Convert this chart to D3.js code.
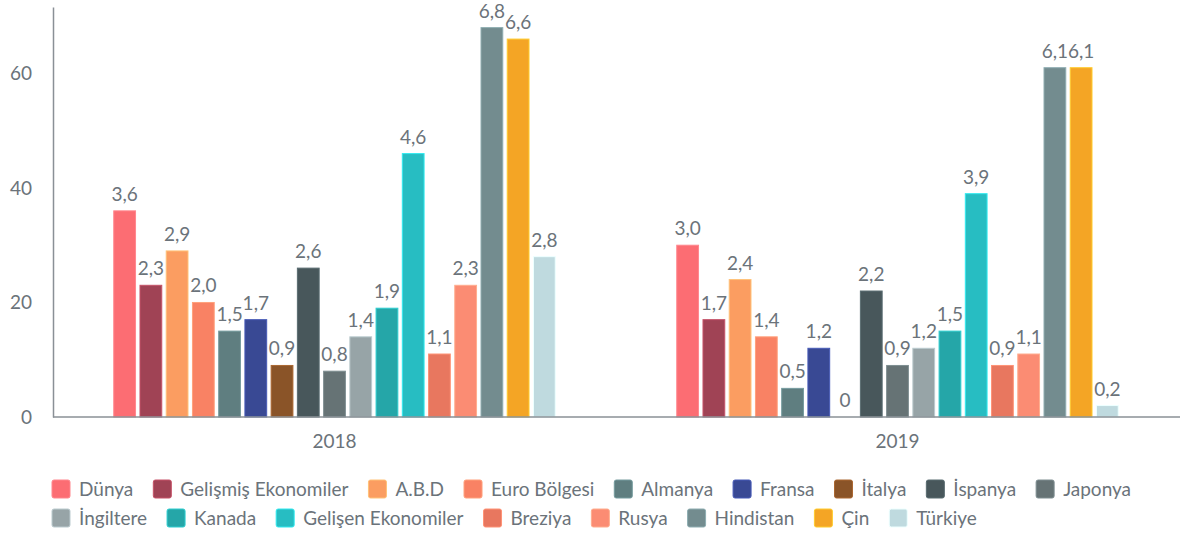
<!DOCTYPE html>
<html>
<head>
<meta charset="utf-8">
<script src="https://cdn.jsdelivr.net/npm/d3@7"></script>
<style>
  body { margin: 0; background: #fff; }
  text { font-family: Lato, "Open Sans", sans-serif; fill: #6b737a; }
</style>
</head>
<body>
<div id="chart"></div>
<script>
const w = 1181;
const h = 536;

// data
const years = ['2018', '2019'];
const countries = ['Dünya', 'Gelişmiş Ekonomiler', 'A.B.D', 'Euro Bölgesi', 'Almanya', 'Fransa', 'İtalya', 'İspanya', 'Japonya',
  'İngiltere', 'Kanada', 'Gelişen Ekonomiler', 'Breziya', 'Rusya', 'Hindistan', 'Çin', 'Türkiye'];
const values2018 = [3.6, 2.3, 2.9, 2.0, 1.5, 1.7, 0.9, 2.6, 0.8, 1.4, 1.9, 4.6, 1.1, 2.3, 6.8, 6.6, 2.8];
const values2019 = [3.0, 1.7, 2.4, 1.4, 0.5, 1.2, 0, 2.2, 0.9, 1.2, 1.5, 3.9, 0.9, 1.1, 6.1, 6.1, 0.2];
const colors = ['#fc6d73', '#a04355', '#fb9d61', '#f98264', '#5f7e80', '#394994', '#8a5428', '#48575b', '#667375',
  '#97a4a7', '#25a6a8', '#27bdc2', '#e8775f', '#fb8c73', '#738c8f', '#f4a525', '#bfdadf'];
const yTicks = [0, 20, 40, 60];

const seriesValues = [values2018, values2019];

const svg = d3.select('#chart')
  .append('svg')
  .attr('width', w)
  .attr('height', h);

//scales
const x0 = d3.scaleBand()
  .domain(years)
  .range([53, 1179])
  .paddingInner(0.2)
  .paddingOuter(0.1);

const x1 = d3.scaleBand()
  .domain(countries)
  .range([0, x0.bandwidth()])
  .padding(0.17);

const y = d3.scaleLinear()
  .domain([0, 71.6])
  .range([417, 7]);

const color = d3.scaleOrdinal().domain(countries).range(colors);

//bars
const groups = svg.selectAll('g.year')
  .data(years)
  .enter()
  .append('g')
  .attr('class', 'year')
  .attr('transform', (d) => 'translate(' + x0(d) + ',0)');

const fmt = (v) => v === 0 ? '0' : d3.format('.1f')(v).replace('.', ',');

groups.each(function (yr, i) {
  const g = d3.select(this);
  const rows = countries.map((c, j) => ({ c: c, v: seriesValues[i][j] }));

  g.selectAll('rect')
    .data(rows)
    .enter()
    .append('rect')
    .attr('x', (d) => x1(d.c))
    .attr('y', (d) => y(d.v * 10))
    .attr('width', x1.bandwidth())
    .attr('height', (d) => y(0) - y(d.v * 10))
    .attr('fill', (d) => color(d.c))
    .attr('stroke', (d) => d3.color(color(d.c)).brighter(0.6))
    .attr('stroke-width', 1);

  g.selectAll('text.val')
    .data(rows)
    .enter()
    .append('text')
    .attr('class', 'val')
    .attr('x', (d) => x1(d.c) + x1.bandwidth() / 2)
    .attr('y', (d) => y(d.v * 10) - 10)
    .attr('text-anchor', 'middle')
    .style('font-size', '19px')
    .text((d) => fmt(d.v));
});

//y-axis
const yAxis = svg.append('g')
  .attr('transform', 'translate(53,0)')
  .call(d3.axisLeft(y).tickValues(yTicks).tickSize(0).tickPadding(21));
yAxis.select('.domain').attr('stroke', '#8a9096').attr('stroke-width', 1.5);
yAxis.selectAll('.tick text').style('font-size', '19px').attr('fill', '#6b737a');

//x-axis
const xAxis = svg.append('g')
  .attr('transform', 'translate(0,417)')
  .call(d3.axisBottom(x0).tickSize(0).tickPadding(18));
xAxis.select('.domain').attr('d', 'M53,0H1180').attr('stroke', '#8a9096').attr('stroke-width', 1.5);
xAxis.selectAll('.tick text').style('font-size', '19px').attr('fill', '#6b737a');

//legend
const rowsY = [489, 518];
let lx = 52;
let row = 0;
countries.forEach((c, i) => {
  if (i === 9) { row = 1; lx = 52; }
  const item = svg.append('g').attr('transform', 'translate(' + lx + ',' + rowsY[row] + ')');
  item.append('rect')
    .attr('x', 0)
    .attr('y', -9)
    .attr('width', 18)
    .attr('height', 18)
    .attr('rx', 2)
    .attr('fill', color(c))
    .attr('stroke', d3.color(color(c)).brighter(0.6));
  const t = item.append('text')
    .attr('x', 27)
    .attr('y', 0)
    .attr('dy', '0.35em')
    .style('font-size', '19px')
    .text(c);
  lx += 27 + t.node().getComputedTextLength() + 20;
});
</script>
</body>
</html>
